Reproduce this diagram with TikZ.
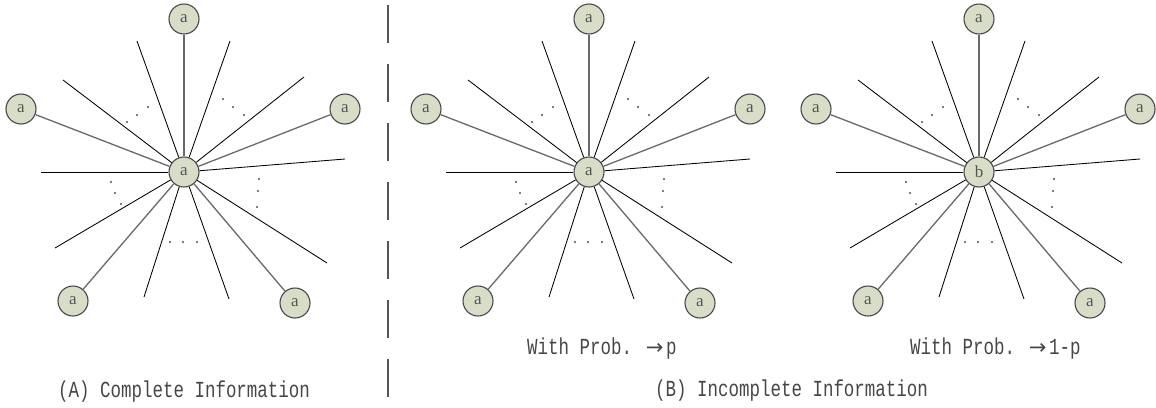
\documentclass[tikz,border=0pt]{standalone}
\usepackage{fontspec}
\newfontfamily\capfont[FakeStretch=0.76]{Liberation Mono}
\newfontfamily\lblfont{Liberation Serif}
\newfontfamily\arrowfont{DejaVu Sans}
\definecolor{nodefill}{RGB}{216,221,200}
\definecolor{nodeborder}{RGB}{72,72,72}
\definecolor{txtgray}{RGB}{85,85,85}
\definecolor{linkgray}{RGB}{105,105,105}
\definecolor{dotgray}{RGB}{80,80,80}
\definecolor{capgray}{RGB}{70,70,70}
\definecolor{divgray}{RGB}{85,85,85}
\tikzset{
  vert/.style={circle, draw=nodeborder, fill=nodefill, line width=1.1pt, minimum size=30pt, inner sep=0pt, font=\lblfont\fontsize{17}{17}\selectfont, text=txtgray},
  link/.style={draw=linkgray, line width=1.3pt},
  stub/.style={draw=black, line width=0.85pt},
  caption/.style={font=\capfont\fontsize{23}{23}\selectfont, text=capgray, anchor=base west, inner sep=0pt},
  divider/.style={draw=divgray, line width=1.4pt, dash pattern=on 38pt off 21pt}
}
\newcommand{\probarrow}{\hspace{-3pt}\makebox[23pt][c]{\arrowfont\fontsize{21}{21}\selectfont →}}
\begin{document}
\begin{tikzpicture}[x=1pt, y=-1pt]
\useasboundingbox (0,0) rectangle (1156,407);
\foreach \i/\ox/\lab in {0/184/a, 1/589/a, 2/979/b} {
  \begin{scope}[shift={(\ox,172)}]
    \node[vert] (c\i) at (0,0) {\lab};
    \node[vert] (t\i) at (0,-153) {a};
    \node[vert] (l\i) at (-163,-63) {a};
    \node[vert] (r\i) at (161,-63) {a};
    \node[vert] (bl\i) at (-111,129) {a};
    \node[vert] (br\i) at (111,131) {a};
    \foreach \n in {t,l,r,bl,br} \draw[link] (c\i) -- (\n\i);
    \foreach \n/\x/\y in {sa/-47/-131, sb/46/-131, sc/-121/-92, sd/120/-95, se/-143/0, sf/161/-13, sg/-129/76, sh/143/91, si/-40/125, sj/45/127} {
      \coordinate (\n\i) at (\x,\y);
      \draw[stub] (c\i) -- (\n\i);
    }
    \foreach \x/\y in {-36/-65, -47/-57, -57/-50, 39/-73, 49/-65, 60/-57, -73/10, -69/21, -63/32, 75/7, 74/19, 73/35, -14/70, -1/70, 13/70}
      \fill[dotgray] (\x,\y) circle (1.1pt);
  \end{scope}
}
\coordinate (dtop) at (388,5);
\coordinate (dbot) at (388,407);
\draw[divider] (dtop) -- (dbot);
\node[caption] (capA) at (58,397) {(A) Complete Information};
\node[caption] (capB) at (655,396) {(B) Incomplete Information};
\node[caption] (capP) at (527,354) {With Prob. \probarrow p};
\node[caption] (capQ) at (910,354) {With Prob. \probarrow 1-p};
\end{tikzpicture}
\end{document}
